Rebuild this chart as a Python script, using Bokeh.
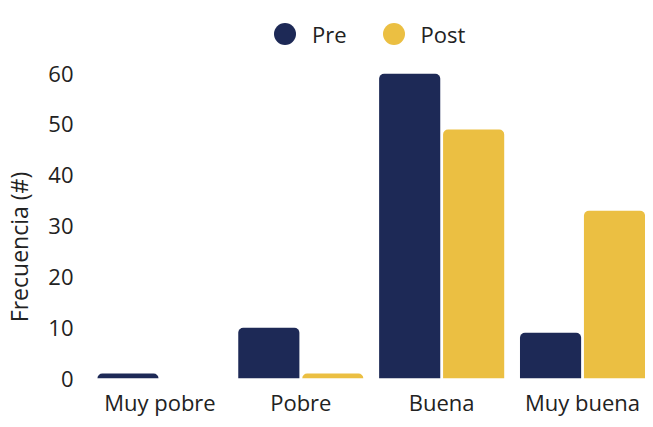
from bokeh.plotting import figure
from bokeh.models import ColumnDataSource, Range1d, FixedTicker, Legend, LegendItem
from bokeh.transform import dodge
from bokeh.embed import file_html
from bokeh.resources import INLINE

categories = ["Muy pobre", "Pobre", "Buena", "Muy buena"]
pre = [1, 10, 60, 9]
post = [0, 1, 49, 33]
series = ["Pre", "Post"]
y_ticks = [0, 10, 20, 30, 40, 50, 60]

NAVY = "#1d2956"
GOLD = "#ebbf42"
FONT = "Open Sans"
TXT = "#222222"

xs = list(range(len(categories)))
src = ColumnDataSource(dict(x=xs, pre=pre, post=post))

p = figure(width=645, height=419, output_backend="svg", toolbar_location=None,
           x_range=Range1d(-0.5, 3.447), y_range=Range1d(0, 74.4),
           min_border_top=0, min_border_left=80, min_border_right=0, min_border_bottom=0)
p.outline_line_color = None

w = 0.434
off = 0.227
r_pre = p.vbar(x=dodge("x", -off), top="pre", width=w, source=src,
               fill_color=NAVY, line_color=None, border_radius=(5, 5, 0, 0))
r_post = p.vbar(x=dodge("x", off), top="post", width=w, source=src,
                fill_color=GOLD, line_color=None, border_radius=(5, 5, 0, 0))

# zero-size markers: only used to draw circular legend swatches
lg_pre = p.scatter(x=dodge("x", -off), y="pre", source=src, marker="circle", size=0,
                   fill_color=NAVY, line_color=None)
lg_post = p.scatter(x=dodge("x", off), y="post", source=src, marker="circle", size=0,
                    fill_color=GOLD, line_color=None)

legend = Legend(items=[LegendItem(label=series[0], renderers=[lg_pre]),
                       LegendItem(label=series[1], renderers=[lg_post])],
                orientation="horizontal", location=(168, 317),
                glyph_width=55, glyph_height=55, label_standoff=0, spacing=19,
                padding=0, margin=0, border_line_color=None, background_fill_alpha=0,
                label_text_font=FONT, label_text_font_size="22px", label_text_color=TXT)
p.add_layout(legend)

p.xgrid.visible = False
p.ygrid.visible = False
p.xaxis.ticker = FixedTicker(ticks=xs)
p.xaxis.major_label_overrides = {i: c for i, c in enumerate(categories)}
p.yaxis.ticker = FixedTicker(ticks=y_ticks)
for ax in (p.xaxis, p.yaxis):
    ax.axis_line_color = None
    ax.major_tick_line_color = None
    ax.minor_tick_line_color = None
    ax.major_label_text_font = FONT
    ax.major_label_text_font_size = "22px"
    ax.major_label_text_color = TXT
p.xaxis.major_label_standoff = 2
p.yaxis.major_label_standoff = 10
p.yaxis.axis_label = "Frecuencia (#)" + "\u2002" * 10
p.yaxis.axis_label_text_font = FONT
p.yaxis.axis_label_text_font_size = "23px"
p.yaxis.axis_label_text_font_style = "normal"
p.yaxis.axis_label_text_color = TXT
p.yaxis.axis_label_standoff = 10

open("out.html", "w").write(file_html(p, INLINE))
